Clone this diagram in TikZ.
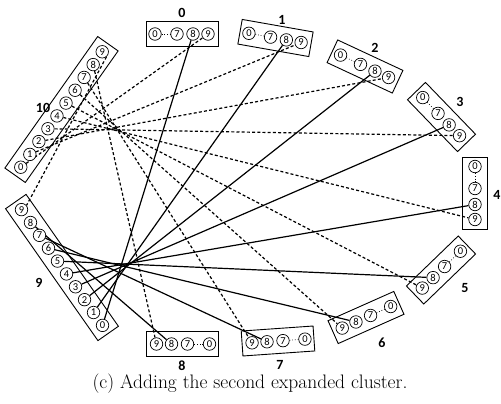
\documentclass[tikz,border=0pt]{standalone}
\usepackage{fontspec}
\newfontfamily\digfont{Carlito}
\usetikzlibrary{calc}
\pgfdeclarelayer{bg}
\pgfsetlayers{bg,main}

\tikzset{
  clusterbox/.style={draw, line width=0.9pt, minimum height=25pt, inner sep=0pt},
  dig/.style={circle, draw, fill=white, line width=0.7pt, inner sep=0pt,
              minimum size=12.5pt, font=\digfont\fontsize{10.5}{10.5}\selectfont},
  clabel/.style={inner sep=0.5pt, font=\digfont\bfseries\fontsize{14}{14}\selectfont},
  dashline/.style={line width=1.2pt, dash pattern=on 3pt off 2.2pt},
  solidline/.style={line width=1.2pt},
  innerdots/.style={line width=0.7pt, dotted}
}

% cluster showing only nodes 0, 7, 8, 9: id, centre, direction of 0 -> 9
\newcommand\shortcluster[3]{%
  \node[clusterbox, minimum width=72pt, rotate=-#3] at (#2) {};
  \foreach \k/\o in {0/-27,7/-5,8/11,9/26}
    \node[dig] (c#1-\k) at ($(#2)+(#3:\o)$) {\k};
  \draw[innerdots] (c#1-0) -- (c#1-7);
}
% cluster showing all ten nodes
\newcommand\fullcluster[3]{%
  \node[clusterbox, minimum width=161pt, rotate=-#3] at (#2) {};
  \foreach \k in {0,...,9}
    \node[dig] (c#1-\k) at ($(#2)+(#3:{(\k-4.5)*15.7})$) {\k};
}

\begin{document}
\begin{tikzpicture}[x=1pt, y=-1pt]
\useasboundingbox (0,0) rectangle (501,404);

% cluster centres
\coordinate (k0) at (182,34);
\coordinate (k1) at (275.5,38);
\coordinate (k2) at (365,66.5);
\coordinate (k3) at (441.5,117);
\coordinate (k4) at (475,193.5);
\coordinate (k5) at (441,270);
\coordinate (k6) at (366,317.5);
\coordinate (k7) at (278,341);
\coordinate (k8) at (182.5,344);
\coordinate (k9) at (62,267.5);
\coordinate (k10) at (61.5,109.5);

\shortcluster{0}{k0}{0}
\shortcluster{1}{k1}{10}
\shortcluster{2}{k2}{25}
\shortcluster{3}{k3}{46}
\shortcluster{4}{k4}{90}
\shortcluster{5}{k5}{136}
\shortcluster{6}{k6}{156}
\shortcluster{7}{k7}{176}
\shortcluster{8}{k8}{180}
\fullcluster{9}{k9}{-125}
\fullcluster{10}{k10}{-54.8}

% cluster labels
\node[clabel] (l0) at (182,13) {0};
\node[clabel] (l1) at (282,20) {1};
\node[clabel] (l2) at (375,48) {2};
\node[clabel] (l3) at (460,102) {3};
\node[clabel] (l4) at (497,195) {4};
\node[clabel] (l5) at (465,288) {5};
\node[clabel] (l6) at (382,343) {6};
\node[clabel] (l7) at (280,365) {7};
\node[clabel] (l8) at (182,366) {8};
\node[clabel] (l9) at (39,283) {9};
\node[clabel] (l10) at (43,108) {10};

% links of the two expanded clusters
\begin{pgfonlayer}{bg}
  \foreach \i in {0,...,8}
    \draw[dashline] (c10-\i) -- (c\i-9);
  \draw[dashline] (c10-9.-50) -- (c9-9.40);
  \foreach \i in {0,...,8}
    \draw[solidline] (c9-\i) -- (c\i-8);
\end{pgfonlayer}

\node[inner sep=0pt] (cap) at (250,384) {\fontsize{19.5}{20}\selectfont (c) Adding the second expanded cluster.};
\end{tikzpicture}
\end{document}
